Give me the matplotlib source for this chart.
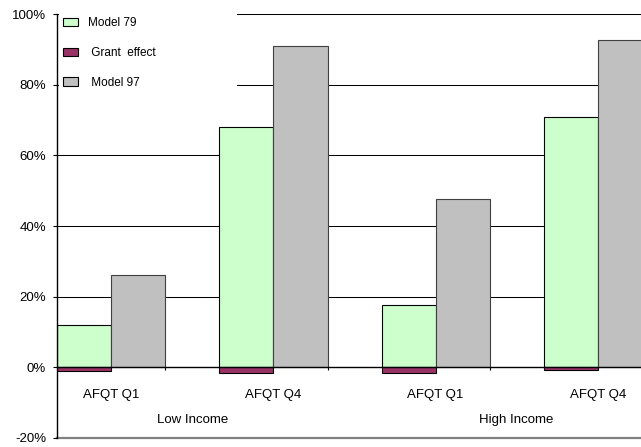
import matplotlib.pyplot as plt
import matplotlib.patches as mpatches
import matplotlib.ticker as mticker
import numpy as np

plt.rcParams['font.family'] = ['Liberation Sans', 'DejaVu Sans']

categories = ['AFQT Q1', 'AFQT Q4', 'AFQT Q1', 'AFQT Q4']
groups = ['Low Income', 'High Income']
model79 = [12.0, 68.1, 17.6, 70.9]
grant_effect = [-1.0, -1.7, -1.5, -0.8]
model97 = [26.2, 90.9, 47.7, 92.7]

green = '#CCFFCC'
plum = '#993366'
grey = '#C0C0C0'

fig = plt.figure(figsize=(6.41, 4.47), dpi=100)
ax = fig.add_axes([0.0894, 0.0204, 0.9696, 0.9477])

x = np.arange(len(categories))
w = 1 / 3

# gridlines behind the bars
for v in [20, 40, 60, 80, 100]:
    ax.axhline(v, color='black', lw=0.75, zorder=0.5)
ax.axhline(-20, color='#808080', lw=1.6, zorder=0.5, clip_on=False)

ax.bar(x - w / 2, model79, width=w, color=green, edgecolor='black', lw=0.8, zorder=2)
ax.bar(x - w / 2, grant_effect, width=w, color=plum, edgecolor='black', lw=0.8, zorder=2)
ax.bar(x + w / 2, model97, width=w, color=grey, edgecolor='#404040', lw=0.8, zorder=2)

ax.set_xlim(-1 / 3, 3.5)
ax.set_ylim(-20, 100)

for s in ['top', 'right']:
    ax.spines[s].set_visible(False)
ax.spines['bottom'].set_position(('data', 0))
ax.spines['bottom'].set_zorder(3)
ax.spines['left'].set_zorder(3)
ax.spines['left'].set_linewidth(1.0)
ax.spines['bottom'].set_linewidth(1.0)

ax.set_yticks([-20, 0, 20, 40, 60, 80, 100])
ax.yaxis.set_major_formatter(mticker.FuncFormatter(lambda v, p: f"{v:.0f}%"))
ax.tick_params(axis='y', direction='out', length=3, width=0.8, pad=5, labelsize=9.5)

ax.set_xticks(x)
ax.set_xticklabels(categories)
ax.set_xticks(x + w, minor=True)
ax.tick_params(axis='x', which='major', length=0, pad=15.5, labelsize=9.5)
ax.tick_params(axis='x', which='minor', direction='out', length=2.5, width=0.8)

for i, g in enumerate(groups):
    ax.text(2 * i + 0.5, -15.0, g, ha='center', va='center', fontsize=9.5)

# white block behind the legend hides the top gridlines
ax.add_patch(mpatches.Rectangle((0.002, 0.8095), 0.287, 0.22, transform=ax.transAxes,
                                facecolor='white', edgecolor='none', zorder=1, clip_on=False))

handles = [
    mpatches.Patch(facecolor=green, edgecolor='black', lw=0.8, label='Model 79'),
    mpatches.Patch(facecolor=plum, edgecolor='black', lw=0.8, label=' Grant  effect'),
    mpatches.Patch(facecolor=grey, edgecolor='black', lw=0.8, label=' Model 97'),
]
ax.legend(handles=handles, loc='upper left', bbox_to_anchor=(0.0092, 0.993),
          frameon=False, fontsize=8.5, handlelength=1.27, handleheight=0.68,
          handletextpad=0.85, labelspacing=1.5, borderpad=0, borderaxespad=0)

plt.savefig('out.png', dpi=100)
plt.close()
